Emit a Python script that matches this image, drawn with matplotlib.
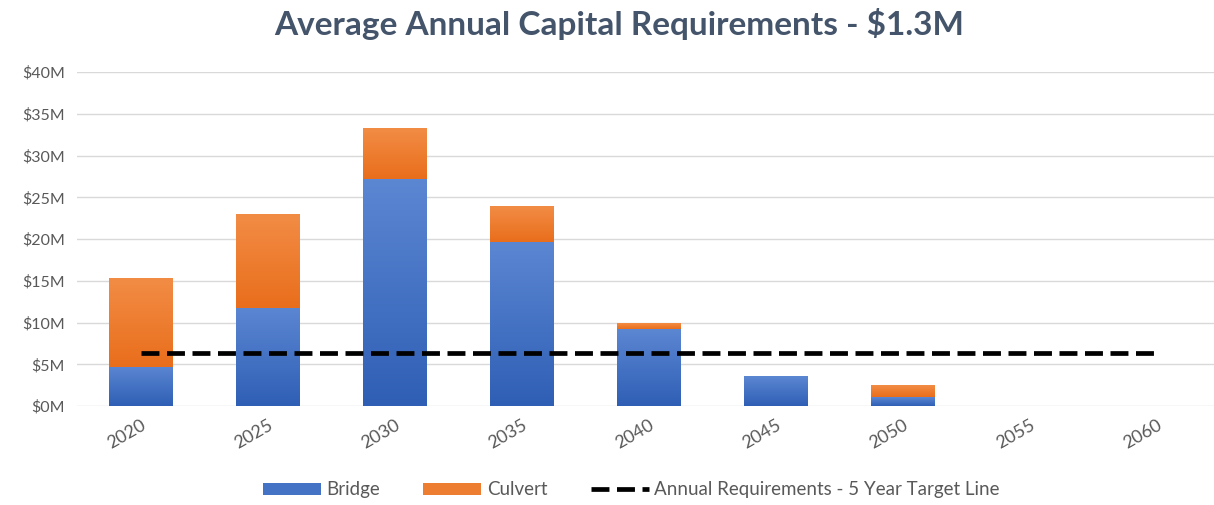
import matplotlib.pyplot as plt
import numpy as np
from matplotlib.colors import LinearSegmentedColormap
from matplotlib.patches import Patch
from matplotlib.lines import Line2D

plt.rcParams['font.family'] = ['Lato', 'DejaVu Sans']

# Capital requirements per 5-year period ($M)
years = ['2020', '2025', '2030', '2035', '2040', '2045', '2050', '2055', '2060']
bridge = [4.7, 11.8, 27.2, 19.7, 9.2, 3.5, 1.05, 0, 0]
culvert = [10.55, 11.15, 6.05, 4.25, 0.7, 0, 1.35, 0, 0]
target = [6.3] * len(years)

yticks = [0, 5, 10, 15, 20, 25, 30, 35, 40]
ytick_labels = ['$%dM' % v for v in yticks]

blue_cmap = LinearSegmentedColormap.from_list('blue', ['#2f5fb5', '#5b86d2'])
orange_cmap = LinearSegmentedColormap.from_list('orange', ['#e96e1c', '#f28c45'])

fig = plt.figure(figsize=(12.14, 5.05), dpi=100)
ax = fig.add_axes([0.0638, 0.196, 0.9415, 0.661])

x = np.arange(len(years))
width = 0.5
grad = np.linspace(0, 1, 64).reshape(-1, 1)


def gradient_bars(bars, cmap):
    # paint each bar segment with a vertical gradient (lighter at the top)
    for b in bars:
        h = b.get_height()
        if h <= 0:
            continue
        b.set_facecolor('none')
        b.set_edgecolor('none')
        x0, y0 = b.get_x(), b.get_y()
        ax.imshow(grad, cmap=cmap, origin='lower', aspect='auto',
                  extent=(x0, x0 + b.get_width(), y0, y0 + h),
                  zorder=2, interpolation='bicubic')


b1 = ax.bar(x, bridge, width, color='#3f6fc6', zorder=2)
b2 = ax.bar(x, culvert, width, bottom=bridge, color='#ed7d31', zorder=2)
gradient_bars(b1, blue_cmap)
gradient_bars(b2, orange_cmap)

ax.plot(x, target, color='black', lw=3.4, linestyle=(0, (3.8, 1.6)), zorder=3,
        solid_capstyle='butt', dash_capstyle='butt')

ax.set_xlim(-0.5, len(years) - 0.5)
ax.set_ylim(0, 40)
ax.set_yticks(yticks)
ax.set_yticklabels(ytick_labels)
ax.set_xticks(x)
ax.set_xticklabels(years, rotation=30, ha='right', rotation_mode='anchor')
ax.tick_params(axis='both', length=0, colors='#595959')
ax.tick_params(axis='y', pad=9, labelsize=11.5)
ax.tick_params(axis='x', pad=8, labelsize=13)
ax.yaxis.grid(True, color='#d9d9d9', lw=1)
ax.set_axisbelow(True)
for s in ax.spines.values():
    s.set_visible(False)

fig.suptitle('Average Annual Capital Requirements - $1.3M', x=0.51, y=0.985,
             fontsize=24, fontweight='bold', color='#44546a')

handles = [Patch(facecolor='#4472c4', edgecolor='none'),
           Patch(facecolor='#ed7d31', edgecolor='none'),
           Line2D([0], [0], color='black', lw=3.4, linestyle=(0, (3.8, 1.6)))]
labels = ['Bridge', 'Culvert', 'Annual Requirements - 5 Year Target Line']
fig.legend(handles, labels, loc='center', bbox_to_anchor=(0.52, 0.03), ncol=3,
           frameon=False, fontsize=13.5, handlelength=3.1, handleheight=0.6,
           columnspacing=2.3, handletextpad=0.3, labelcolor='#595959')

fig.savefig('out.png', dpi=100)
